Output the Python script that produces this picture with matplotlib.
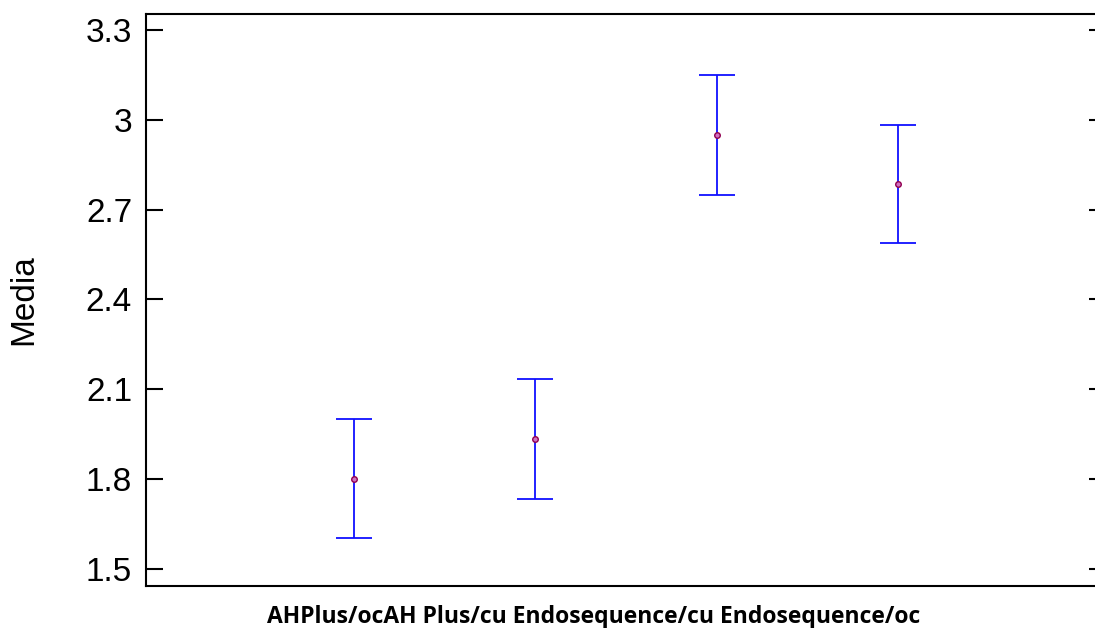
import matplotlib
matplotlib.use("Agg")
import matplotlib.pyplot as plt
import numpy as np

# group means with their intervals
groups = ["AHPlus/oc", "AH Plus/cu", "Endosequence/cu", "Endosequence/oc"]
means = [1.800, 1.935, 2.950, 2.785]
lower = [1.602, 1.733, 2.748, 2.587]
upper = [2.000, 2.133, 3.150, 2.983]
yticks = [1.5, 1.8, 2.1, 2.4, 2.7, 3.0, 3.3]
ytick_labels = ["1.5", "1.8", "2.1", "2.4", "2.7", "3", "3.3"]
xlabel = "AHPlus/ocAH Plus/cu Endosequence/cu Endosequence/oc"

plt.rcParams['font.family'] = ['Liberation Sans', 'DejaVu Sans']

fig = plt.figure(figsize=(10.95, 6.28), dpi=100)
ax = fig.add_axes([146 / 1095, 1 - 586 / 628, 960 / 1095, 572 / 628])

x = np.arange(1, len(groups) + 1)
m = np.array(means)
yerr = [m - np.array(lower), np.array(upper) - m]
ax.errorbar(x, m, yerr=yerr, fmt='none', ecolor='#1010ff', elinewidth=1.3,
            capsize=13.3, capthick=1.3)
ax.plot(x, m, 'o', ms=4, mfc='#d070c0', mec='#900050', mew=1.0, zorder=3)

ax.set_xlim(-0.147, 5.147)
ax.set_ylim(1.443, 3.353)
ax.set_yticks(yticks)
ax.set_yticklabels(ytick_labels)
ax.set_xticks([])
ax.tick_params(axis='y', direction='in', length=12, width=1.5, labelsize=24,
               right=True, pad=10)
for s in ax.spines.values():
    s.set_linewidth(1.5)

fig.text(24 / 1095, 1 - 300 / 628, "Media", rotation=90, ha='center',
         va='center', fontsize=24)
fig.text(594 / 1095, 1 - 623 / 628, xlabel, ha='center', va='baseline',
         fontsize=16.5, fontweight='bold', family=['Open Sans', 'DejaVu Sans'])

fig.savefig("out.png", dpi=100)
